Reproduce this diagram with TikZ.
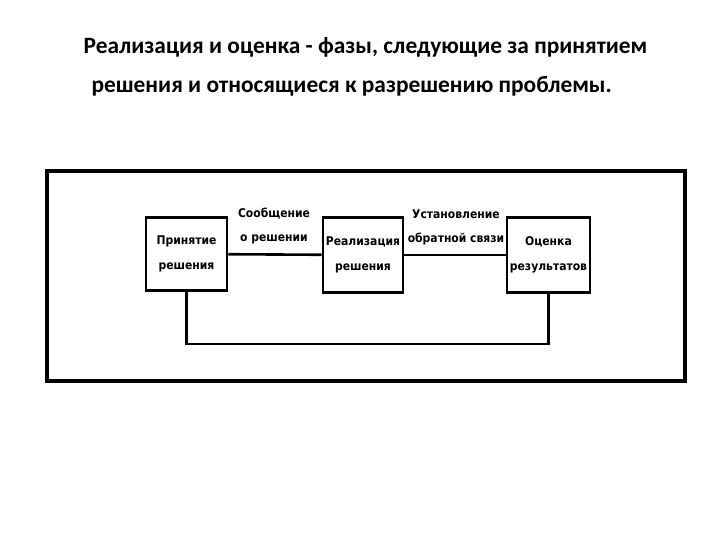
\documentclass[tikz,border=0pt]{standalone}
\usepackage{fontspec}
\setmainfont{Carlito}
\newfontfamily\diagfont{DejaVu Sans Condensed}
\usepackage{tikz}

\begin{document}
\begin{tikzpicture}[x=1pt,y=-1pt,
  phase/.style={draw,line width=2.6pt,minimum width=81pt,minimum height=73pt,
    align=center,inner sep=0pt,font=\diagfont\bfseries\fontsize{12}{25}\selectfont},
  lbl/.style={align=center,font=\diagfont\bfseries\fontsize{12}{24}\selectfont},
  link/.style={line width=2.6pt}]
\useasboundingbox (0,0) rectangle (720,540);
\node[anchor=west,font=\bfseries\fontsize{23.4}{24}\selectfont] (t1) at (80,47) {Реализация и оценка - фазы, следующие за принятием};
\node[anchor=west,font=\bfseries\fontsize{23.4}{24}\selectfont] (t2) at (88,86) {решения и относящиеся к разрешению проблемы.};
\draw[line width=3.5pt] (47,171) rectangle (685,381);
\node[phase] (pr) at (186.5,254) {Принятие\\решения};
\node[phase,minimum width=80pt,minimum height=75pt] (re) at (363,255) {Реализация\\решения};
\node[phase,minimum width=83pt,minimum height=75pt] (oc) at (548.5,255) {Оценка\\результатов};
\node[lbl] (l1) at (274,226) {Сообщение\\о решении};
\node[lbl] (l2) at (456,227) {Установление\\обратной связи};
\draw[link] (pr) -- (re);
\draw[link] (re) -- (oc);
\draw[link] (pr.south) -- ++(0,52) -| (oc.south);
\end{tikzpicture}
\end{document}
